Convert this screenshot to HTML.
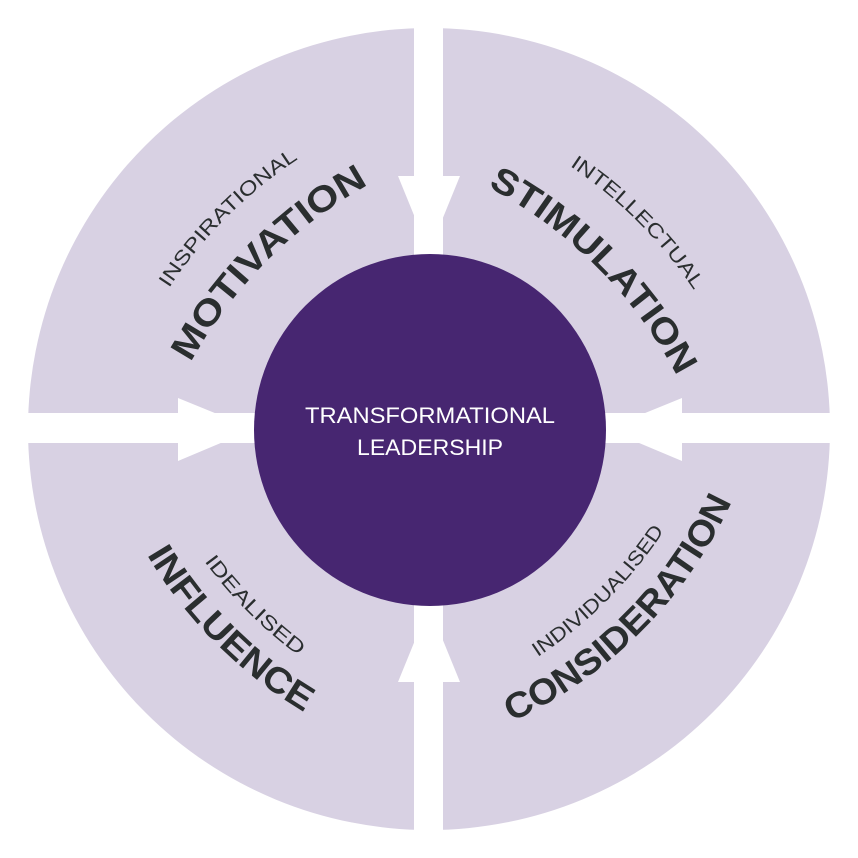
<!DOCTYPE html>
<html><head><style>html,body{margin:0;padding:0;background:#fff}svg{display:block}</style></head>
<body>
<svg width="858" height="858" viewBox="0 0 858 858" xmlns="http://www.w3.org/2000/svg">
<defs>
<path id="p1" d="M150.5,462.7 A450,450 0 0 1 468.7,144.5"/>
<path id="p2" d="M110.5,418.7 A450,450 0 0 1 428.7,100.5"/>
<path id="p3" d="M395.1,150.7 A450,450 0 0 1 713.3,468.9"/>
<path id="p4" d="M436.3,105.5 A450,450 0 0 1 754.5,423.7"/>
<path id="p5" d="M99.3,441.5 A450,450 0 0 0 417.5,759.7"/>
<path id="p6" d="M131.5,410.3 A450,450 0 0 0 449.7,728.5"/>
<path id="p7" d="M439.6,747.8 A450,450 0 0 0 757.8,429.6"/>
<path id="p8" d="M405.5,716.7 A450,450 0 0 0 723.7,398.5"/>
</defs>
<circle cx="429" cy="429" r="401" fill="#d8d1e3"/>
<rect x="414" y="0" width="29" height="858" fill="#fff"/>
<rect x="0" y="413" width="858" height="30" fill="#fff"/>
<polygon points="398,176 460,176 429,252" fill="#fff"/>
<polygon points="398,682 460,682 429,606" fill="#fff"/>
<polygon points="178,398 178,461 254,429" fill="#fff"/>
<polygon points="682,398 682,461 606,429" fill="#fff"/>
<circle cx="430" cy="430" r="176" fill="#472671"/>
<g font-family="Liberation Sans, sans-serif" fill="#fff" font-size="22" text-anchor="middle">
<text x="430" y="423" textLength="250" lengthAdjust="spacingAndGlyphs">TRANSFORMATIONAL</text>
<text x="430" y="455" textLength="146" lengthAdjust="spacingAndGlyphs">LEADERSHIP</text>
</g>
<g font-family="Liberation Sans, sans-serif" text-anchor="middle" fill="#2a2e2f">
<text font-size="20"><textPath href="#p2" startOffset="50%" textLength="184" lengthAdjust="spacingAndGlyphs">INSPIRATIONAL</textPath></text>
<text font-size="36" font-weight="bold"><textPath href="#p1" startOffset="50%" textLength="255" lengthAdjust="spacingAndGlyphs">MOTIVATION</textPath></text>
<text font-size="20"><textPath href="#p4" startOffset="50%" textLength="177" lengthAdjust="spacingAndGlyphs">INTELLECTUAL</textPath></text>
<text font-size="36" font-weight="bold"><textPath href="#p3" startOffset="50%" textLength="272" lengthAdjust="spacingAndGlyphs">STIMULATION</textPath></text>
<text font-size="20"><textPath href="#p6" startOffset="50%" textLength="134" lengthAdjust="spacingAndGlyphs">IDEALISED</textPath></text>
<text font-size="36" font-weight="bold"><textPath href="#p5" startOffset="50%" textLength="225" lengthAdjust="spacingAndGlyphs">INFLUENCE</textPath></text>
<text font-size="20"><textPath href="#p8" startOffset="50%" textLength="180" lengthAdjust="spacingAndGlyphs">INDIVIDUALISED</textPath></text>
<text font-size="36" font-weight="bold"><textPath href="#p7" startOffset="50%" textLength="318" lengthAdjust="spacingAndGlyphs">CONSIDERATION</textPath></text>
</g>
</svg>
</body></html>
